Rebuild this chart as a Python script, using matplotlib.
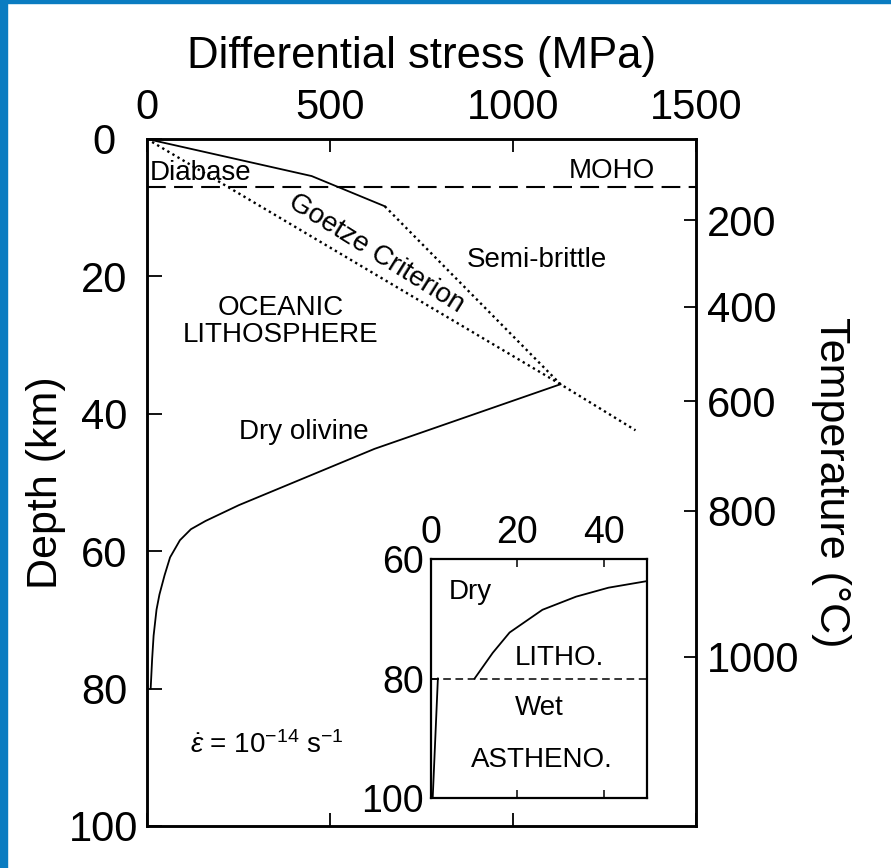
import matplotlib
matplotlib.use("Agg")
import matplotlib.pyplot as plt
from matplotlib.patches import Rectangle

plt.rcParams['font.family'] = ['Liberation Sans', 'DejaVu Sans']
plt.rcParams['mathtext.fontset'] = 'custom'
plt.rcParams['mathtext.rm'] = 'Liberation Sans'
plt.rcParams['mathtext.it'] = 'Liberation Sans:italic'

# Strength envelope of oceanic lithosphere (stress in MPa, depth in km)
diabase_stress = [0, 450, 650]
diabase_depth = [0, 5.4, 9.8]

brittle_stress = [650, 1130, 1335]
brittle_depth = [9.8, 35.7, 42.4]

goetze_stress = [0, 1130]
goetze_depth = [0, 35.7]

olivine_stress = [1130, 622, 251, 160, 120, 90, 63, 48, 34, 26, 18, 14, 10]
olivine_depth = [35.7, 45.1, 53.3, 55.6, 56.8, 58.4, 60.9, 63.5, 66.3, 68.5, 72.3, 75.7, 80]

moho_depth = 7.0

stress_ticks = [0, 500, 1000, 1500]
depth_ticks = [0, 20, 40, 60, 80, 100]

# Geotherm: temperature ticks and the depth where each is reached
temp_labels = [200, 400, 600, 800, 1000]
temp_depths = [11.8, 24.4, 38.2, 54.1, 75.4]

# Inset: deep part, dry vs wet olivine
inset_dry_stress = [10.1, 14.3, 18.2, 25.8, 33.6, 41.1, 50]
inset_dry_depth = [80, 75.7, 72.3, 68.5, 66.3, 64.8, 63.7]
inset_wet_stress = [0.4, 1.6]
inset_wet_depth = [100, 80]
inset_stress_ticks = [0, 20, 40]
inset_depth_ticks = [60, 80, 100]
litho_base = 80

fig = plt.figure(figsize=(8.91, 8.68), dpi=100)

# blue frame strips on the left and top
fig.patches.append(Rectangle((0, 0), 7 / 891, 1, transform=fig.transFigure,
                             color='#0a7cc1', zorder=10))
fig.patches.append(Rectangle((0, 1 - 3 / 868), 1, 3 / 868, transform=fig.transFigure,
                             color='#0a7cc1', zorder=10))

ax = fig.add_axes([0.165, 0.0484, 0.616, 0.7915])
ax.plot(diabase_stress, diabase_depth, color='black', lw=1.3)
ax.plot(brittle_stress, brittle_depth, color='black', lw=1.7, linestyle=(0, (1, 1.5)))
ax.plot(goetze_stress, goetze_depth, color='black', lw=1.7, linestyle=(0, (1, 1.5)))
ax.plot(olivine_stress, olivine_depth, color='black', lw=1.3)
ax.axhline(moho_depth, color='black', lw=1.5, dashes=(9, 4))

ax.set_xlim(0, 1500)
ax.set_ylim(100, 0)
ax.set_xticks(stress_ticks)
ax.set_yticks(depth_ticks)
ax.tick_params(axis='x', top=True, bottom=True, labeltop=True, labelbottom=False,
               direction='in', length=9.5, width=1.3, labelsize=30, pad=8)
ax.tick_params(axis='y', left=True, right=False, direction='in', length=11,
               width=1.3, labelsize=30, pad=31)
for lab in ax.get_yticklabels():
    lab.set_horizontalalignment('center')
for s in ax.spines.values():
    s.set_linewidth(1.8)

ax.xaxis.set_label_position('top')
ax.set_xlabel('Differential stress (MPa)', fontsize=31.5, labelpad=14)
ax.set_ylabel('Depth (km)', fontsize=31, labelpad=2)

ax2 = ax.twinx()
ax2.set_ylim(ax.get_ylim())
ax2.set_yticks(temp_depths)
ax2.set_yticklabels([str(t) for t in temp_labels])
ax2.tick_params(axis='y', direction='in', length=9, width=1.3, labelsize=30, pad=8)
ax2.set_ylabel('Temperature (°C)', fontsize=31, rotation=270, va='bottom', labelpad=8)
for s in ax2.spines.values():
    s.set_linewidth(1.8)

lbl = dict(fontsize=20, color='black')
ax.text(8, 4.9, 'Diabase', ha='left', va='center', **lbl)
ax.text(1270, 4.65, 'MOHO', ha='center', va='center', **lbl)
ax.text(626, 16.7, 'Goetze Criterion', ha='center', va='center', rotation=-32,
        rotation_mode='anchor', **lbl)
ax.text(1066, 17.6, 'Semi-brittle', ha='center', va='center', **lbl)
ax.text(366, 24.6, 'OCEANIC', ha='center', va='center', **lbl)
ax.text(366, 28.6, 'LITHOSPHERE', ha='center', va='center', **lbl)
ax.text(429, 42.7, 'Dry olivine', ha='center', va='center', **lbl)
ax.text(117, 88.2, r'$\dot{\varepsilon}$ = 10$^{-14}$ s$^{-1}$', ha='left',
        va='center', **lbl)

# inset for the base of the lithosphere
ins = fig.add_axes([0.4837, 0.0806, 0.2424, 0.2754])
ins.plot(inset_dry_stress, inset_dry_depth, color='black', lw=1.3)
ins.plot(inset_wet_stress, inset_wet_depth, color='black', lw=1.3)
ins.axhline(litho_base, color='black', lw=1.1, dashes=(5, 3))
ins.set_xlim(0, 50)
ins.set_ylim(100, 60)
ins.set_xticks(inset_stress_ticks)
ins.set_yticks(inset_depth_ticks)
ins.tick_params(axis='x', top=True, bottom=True, labeltop=True, labelbottom=False,
                direction='in', length=6, width=1.1, labelsize=27, pad=6)
ins.tick_params(axis='y', direction='in', length=6, width=1.1, labelsize=27, pad=5)
for s in ins.spines.values():
    s.set_linewidth(1.6)
ins.text(4.1, 65.5, 'Dry', ha='left', va='center', **lbl)
ins.text(29.7, 76.6, 'LITHO.', ha='center', va='center', **lbl)
ins.text(25.1, 84.9, 'Wet', ha='center', va='center', **lbl)
ins.text(25.7, 93.6, 'ASTHENO.', ha='center', va='center', **lbl)

fig.savefig('out.png', dpi=100)
